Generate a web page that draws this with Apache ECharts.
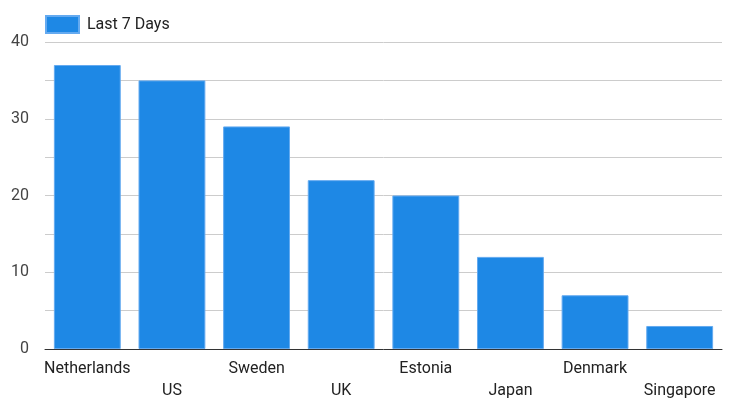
<!DOCTYPE html>
<html>
<head>
<meta charset="utf-8">
<script src="https://cdn.jsdelivr.net/npm/echarts@6/dist/echarts.min.js"></script>
<style>
  html, body { margin: 0; padding: 0; background: #fff; }
  #chart { width: 737px; height: 416px; }
</style>
</head>
<body>
<div id="chart"></div>
<script>
// countries
var countries = ['Netherlands', 'US', 'Sweden', 'UK', 'Estonia', 'Japan', 'Denmark', 'Singapore'];
// values for the last 7 days
var last7Days = [37, 35, 29, 22, 20, 12, 7, 3];
var seriesName = 'Last 7 Days';

var chart = echarts.init(document.getElementById('chart'));

var option = {
    animation: false,
    textStyle: { fontFamily: 'Roboto' },
    legend: {
        left: 40,
        top: 10,
        itemWidth: 33,
        itemHeight: 17,
        icon: 'rect',
        textStyle: { fontSize: 16, color: '#222', fontFamily: 'Roboto', padding: [0, 0, 0, 3] },
        data: [seriesName]
    },
    grid: { left: 45, right: 15, top: 42, bottom: 67, containLabel: false },
    xAxis: {
        type: 'category',
        data: countries,
        axisTick: { show: false },
        axisLine: { lineStyle: { color: '#333', width: 1 } },
        axisLabel: {
            interval: 0,
            margin: 9,
            fontSize: 16,
            color: '#222',
            lineHeight: 22,
            formatter: function (value, index) {
                return index % 2 === 1 ? '\n' + value : value;
            }
        }
    },
    yAxis: {
        type: 'value',
        min: 0,
        max: 40,
        interval: 5,
        axisLine: { show: false },
        axisTick: { show: false },
        splitLine: { lineStyle: { color: '#ccc', width: 1 } },
        axisLabel: {
            margin: 16,
            fontSize: 16,
            color: '#444',
            formatter: function (v) {
                return v % 10 === 0 ? v : '';
            }
        }
    },
    series: [{
        name: seriesName,
        type: 'bar',
        data: last7Days,
        barCategoryGap: '21%',
        itemStyle: { color: '#1e88e5', borderColor: '#64aaf0', borderWidth: 1 }
    }]
};

chart.setOption(option);
</script>
</body>
</html>
